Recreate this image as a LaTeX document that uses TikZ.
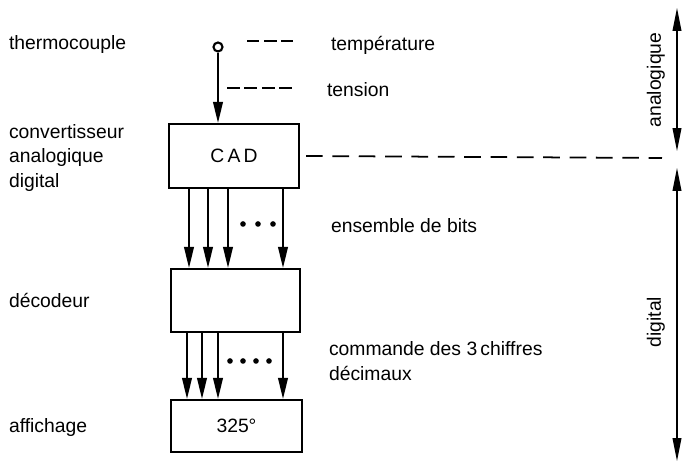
\documentclass[tikz,border=0pt]{standalone}
\usepackage{fontspec}
\setmainfont{Liberation Sans}
\usetikzlibrary{arrows.meta}
\begin{document}
\begin{tikzpicture}[x=0.02cm, y=-0.02cm, line width=1.2pt,
  every node/.style={font=\fontsize{11}{14}\selectfont},
  box/.style={draw, rectangle, inner sep=0pt},
  bit/.style={-{Triangle[length=12pt,width=5.5pt]}},
  axe/.style={line width=0.6pt, {Triangle[length=13pt,width=5pt]}-{Triangle[length=13pt,width=5pt]}},
  lbl/.style={anchor=west, inner sep=0pt, align=left}]
  \useasboundingbox (0,0) rectangle (691,465);

  % chaine de mesure
  \node[circle, draw, minimum size=0.18cm, inner sep=0pt] (tc) at (218,47) {};
  \node[box, minimum width=2.6cm, minimum height=1.28cm] (cad) at (234,156) {C\,A\,D};
  \node[box, minimum width=2.58cm, minimum height=1.26cm] (dec) at (235.5,300.5) {};
  \node[box, minimum width=2.62cm, minimum height=1.04cm] (aff) at (236.5,426) {325°};

  \draw[bit] (tc) -- (tc |- cad.north);
  \foreach \x in {189,208,228,283}
    \draw[bit] (cad.south -| \x,0) -- (dec.north -| \x,0);
  \foreach \x in {187,202,218,283}
    \draw[bit] (dec.south -| \x,0) -- (aff.north -| \x,0);
  \foreach \x in {243,258,273}
    \fill (\x,224) circle (1.6pt);
  \foreach \x in {230,243,256,269}
    \fill (\x,361) circle (1.6pt);

  % textes a gauche
  \node[lbl] (thermo) at (8,45) {thermocouple};
  \node[lbl] (conv) at (8,158) {convertisseur\\analogique\\digital};
  \node[lbl] (deco) at (8,300) {décodeur};
  \node[lbl] (affi) at (8,428) {affichage};

  % textes a droite
  \node[lbl] (temp) at (330,45) {température};
  \node[lbl] (tens) at (326,90) {tension};
  \node[lbl] (bits) at (330,226) {ensemble de bits};
  \node[lbl] (cmd) at (328,361) {commande des 3\,chiffres\\décimaux};

  \draw[line width=1pt, dash pattern=on 7pt off 2.8pt] (247,41) -- (293,41);
  \draw[line width=1pt, dash pattern=on 7.3pt off 2.6pt] (227,88) -- (293,88);
  \coordinate (lim) at (662,158);
  \draw[line width=1pt, dash pattern=on 9.5pt off 5.5pt] (cad.east) ++(6,0) -- (lim);

  % domaines
  \coordinate (a1) at (677,8);
  \coordinate (a2) at (677,151);
  \coordinate (d1) at (677,168);
  \coordinate (d2) at (677,461);
  \draw[axe] (a1) -- (a2);
  \draw[axe] (d1) -- (d2);
  \node[rotate=90] (ana) at (656,80) {analogique};
  \node[rotate=90] (dig) at (656,322) {digital};
\end{tikzpicture}
\end{document}
